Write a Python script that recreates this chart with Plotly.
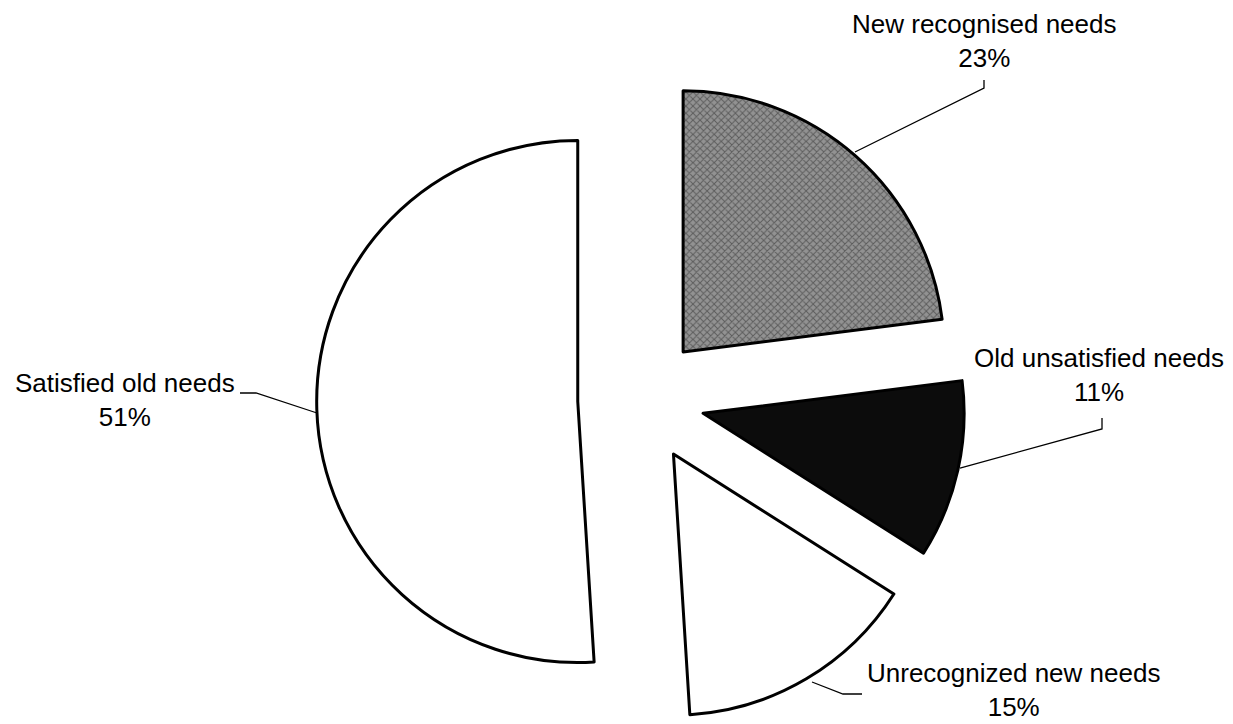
import plotly.graph_objects as go

# Data
labels = ["New recognised needs", "Old unsatisfied needs", "Unrecognized new needs", "Satisfied old needs"]
values = [23, 11, 15, 51]
pct_text = ["23%", "11%", "15%", "51%"]

W, H = 1233, 724
MT, MB = 75, 0
PH = H - MT - MB

# style
colors = ["#8a8a8a", "#0c0c0c", "#ffffff", "#ffffff"]
pulls = [0.243, 0.243, 0.243, 0.243]

fig = go.Figure(go.Pie(
    labels=labels,
    values=values,
    sort=False,
    direction="clockwise",
    rotation=0,
    pull=pulls,
    textinfo="none",
    hoverinfo="label+percent",
    marker=dict(
        colors=colors,
        line=dict(color="#000000", width=3),
        pattern=dict(
            shape=["x", "", "", ""],
            fgcolor=["#5c5c5c", "#0c0c0c", "#ffffff", "#ffffff"],
            bgcolor=["#929292", "#0c0c0c", "#ffffff", "#ffffff"],
            size=5,
            solidity=0.35,
        ),
    ),
    domain=dict(x=[0.04, 1.0], y=[0, 1]),
    showlegend=False,
))

def P(x, y):
    # pixel -> paper coords (paper spans plot area)
    return x / W, 1 - (y - MT) / PH

# label positions (pixel centres) and leader line paths (style / layout)
label_pos = [(985, 41), (1099, 375), (1013, 690), (125, 400)]
leaders = [
    [(984, 80), (984, 88), (855, 152)],
    [(1102, 418), (1102, 429), (960, 468)],
    [(812, 682), (843, 694), (862, 694)],
    [(240, 393), (256, 393), (317, 413)],
]

for lab, pct, (cx, cy), pts in zip(labels, pct_text, label_pos, leaders):
    ax, ay = P(cx, cy)
    fig.add_annotation(
        x=ax, y=ay, xref="paper", yref="paper",
        text=f"{lab}<br>{pct}", showarrow=False,
        xanchor="center", yanchor="middle",
        font=dict(family="Liberation Sans, Arial, sans-serif", size=26, color="#000000"),
    )
    path = ""
    for i, (x, y) in enumerate(pts):
        px, py = P(x, y)
        path += ("M" if i == 0 else " L") + f" {px:.5f} {py:.5f}"
    fig.add_shape(type="path", path=path, xref="paper", yref="paper",
                  line=dict(color="#000000", width=1.3))

fig.update_layout(
    width=W, height=H,
    margin=dict(l=0, r=0, t=MT, b=MB),
    paper_bgcolor="#ffffff",
    plot_bgcolor="#ffffff",
)

fig.write_html("out.html")
